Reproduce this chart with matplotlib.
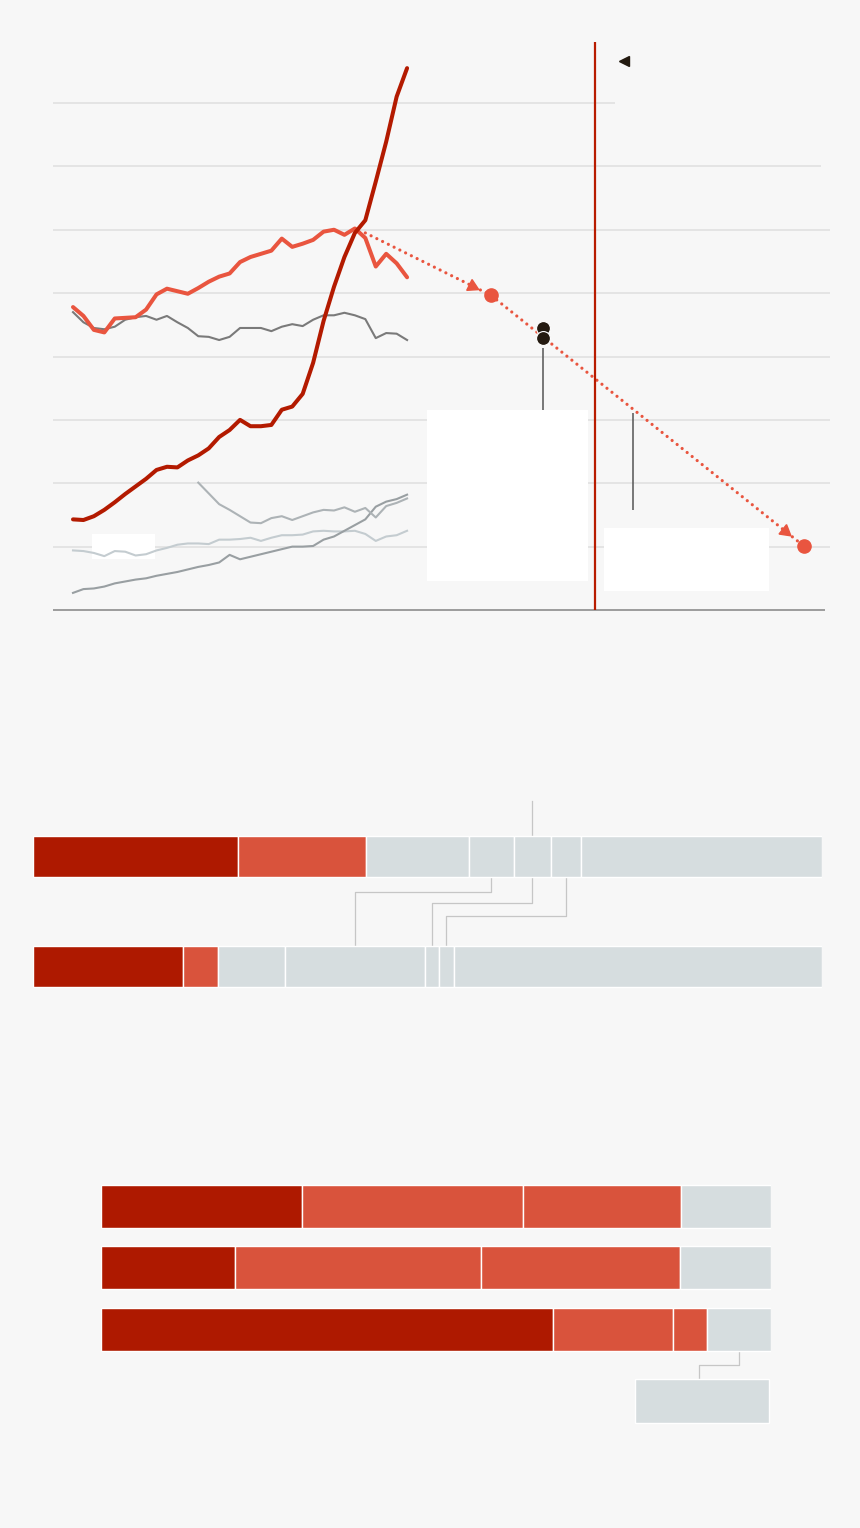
import numpy as np
import matplotlib
matplotlib.use("Agg")
import matplotlib.pyplot as plt
from matplotlib.patches import Rectangle

# ---- line chart data (values in grid units, one per gridline) ----
years = list(range(1990, 2023))
dark_red = [1.43, 1.42, 1.48, 1.58, 1.70, 1.83, 1.95, 2.07, 2.21, 2.26, 2.25,
            2.36, 2.44, 2.55, 2.73, 2.84, 3.00, 2.90, 2.90, 2.92, 3.16, 3.21,
            3.41, 3.90, 4.56, 5.10, 5.57, 5.95, 6.15, 6.76, 7.39, 8.10, 8.55]
orange = [4.78, 4.64, 4.42, 4.38, 4.60, 4.61, 4.62, 4.74, 4.98, 5.07, 5.03,
          4.99, 5.08, 5.18, 5.26, 5.31, 5.49, 5.57, 5.62, 5.67, 5.86, 5.73,
          5.78, 5.84, 5.97, 6.00, 5.92, 6.02, 5.87, 5.42, 5.62, 5.47, 5.25]
dark_gray = [4.70, 4.54, 4.45, 4.43, 4.47, 4.58, 4.62, 4.64, 4.58, 4.64, 4.54,
             4.45, 4.32, 4.31, 4.26, 4.31, 4.45, 4.45, 4.45, 4.40, 4.47, 4.51,
             4.48, 4.58, 4.65, 4.65, 4.69, 4.65, 4.59, 4.29, 4.37, 4.36, 4.26]
light_blue = [0.94, 0.93, 0.90, 0.85, 0.93, 0.92, 0.86, 0.88, 0.94, 0.98, 1.03,
              1.05, 1.05, 1.04, 1.11, 1.11, 1.12, 1.14, 1.09, 1.14, 1.18, 1.18,
              1.19, 1.24, 1.25, 1.24, 1.24, 1.25, 1.20, 1.09, 1.16, 1.18, 1.25]
mid_gray = [0.27, 0.33, 0.34, 0.37, 0.42, 0.45, 0.48, 0.50, 0.54, 0.57, 0.60,
            0.64, 0.68, 0.71, 0.75, 0.87, 0.80, 0.84, 0.88, 0.92, 0.96, 1.00,
            1.00, 1.01, 1.11, 1.16, 1.25, 1.34, 1.43, 1.63, 1.71, 1.75, 1.82]
years_late = list(range(2002, 2023))
light_gray = [2.01, 1.84, 1.67, 1.58, 1.48, 1.38, 1.37, 1.45, 1.48, 1.42, 1.48,
              1.54, 1.58, 1.57, 1.62, 1.55, 1.61, 1.46, 1.64, 1.69, 1.76]

proj_years = [2018, 2030, 2060]
proj_vals = [5.95, 4.97, 1.01]
marked_year = 2035
marked_vals = [4.45, 4.29]
cutoff_year = 2040
grid_vals = [1, 2, 3, 4, 5, 6, 7, 8]
grid_ends = [2062.5, 2062.5, 2062.5, 2062.5, 2062.5, 2062.5, 2061.6, 2041.9]

# ---- stacked bars (percent shares) ----
top_bars = [
    [26.0, 16.2, 13.1, 5.6, 4.7, 3.9, 30.5],
    [19.0, 4.4, 8.6, 17.7, 1.7, 1.9, 46.7],
]
bottom_bars = [
    [30.0, 33.0, 23.6, 13.4],
    [20.0, 36.7, 29.7, 13.6],
    [67.5, 17.8, 5.1, 9.6],
]

DARK = "#ae1900"
ORANGE = "#d9533c"
LINE_ORANGE = "#e9553f"
GRAY = "#d6dddf"
BG = "#f7f7f7"

W, H = 860, 1528
fig = plt.figure(figsize=(8.6, 15.28), dpi=100, facecolor=BG)


def px_axes(x0, y0, x1, y1):
    ax = fig.add_axes([x0 / W, 1 - y1 / H, (x1 - x0) / W, (y1 - y0) / H])
    ax.set_axis_off()
    ax.set_facecolor("none")
    return ax


# ================= line chart =================
ax = px_axes(0, 0, 860, 660)
ax.set_xlim(1990 - 73 / 10.44, 1990 + 787 / 10.44)
ax.set_ylim(-50 / 63.375, 610 / 63.375)

for v, xe in zip(grid_vals, grid_ends):
    ax.hlines(v, 1988.1, xe, color="#e2e2e2", lw=1.3, zorder=1)
ax.hlines(0, 1988.1, 2062.0, color="#9c9c9c", lw=1.4, zorder=1)

# label backgrounds
for (x0, x1, y0, y1) in [(2023.9, 2039.3, 0.46, 3.16),
                         (2040.86, 2056.7, 0.30, 1.29),
                         (1991.8, 1997.9, 0.80, 1.20)]:
    ax.add_patch(Rectangle((x0, y0), x1 - x0, y1 - y0, facecolor="white",
                           edgecolor="none", zorder=2))

ax.plot(years, light_blue, color="#c4ccd0", lw=1.5, zorder=3)
ax.plot(years, mid_gray, color="#999fa2", lw=1.5, zorder=3)
ax.plot(years_late, light_gray, color="#adb3b6", lw=1.5, zorder=3)
ax.plot(years, dark_gray, color="#7a7a7a", lw=1.5, zorder=3)
ax.plot(years, orange, color=LINE_ORANGE, lw=2.9, zorder=4,
        solid_capstyle="round", solid_joinstyle="round")
ax.plot(years, dark_red, color="#b31a00", lw=2.9, zorder=5,
        solid_capstyle="round", solid_joinstyle="round")

# projection
ax.plot(proj_years, proj_vals, color=LINE_ORANGE, lw=2.3, zorder=4,
        linestyle=(0, (0.01, 2.0)), dash_capstyle="round")
ax.plot(proj_years[1:], proj_vals[1:], "o", color=LINE_ORANGE, ms=9.5, zorder=6)
for i in range(2):
    x0, y0 = proj_years[i], proj_vals[i]
    x1, y1 = proj_years[i + 1], proj_vals[i + 1]
    t = 1 - 1.8 / (x1 - x0)
    p0 = ax.transData.transform((x0, y0))
    p1 = ax.transData.transform((x1, y1))
    ang = np.degrees(np.arctan2(p1[1] - p0[1], p1[0] - p0[0]))
    ax.plot(x0 + t * (x1 - x0), y0 + t * (y1 - y0), marker=(3, 0, ang - 90),
            color=LINE_ORANGE, ms=10, zorder=6, lw=0)

ax.plot([marked_year] * 2, marked_vals, "o", color="#241a10", ms=10,
        mec="white", mew=0.8, zorder=7)
ax.vlines(marked_year, 3.16, 4.13, color="#555555", lw=1.1, zorder=3)
ax.vlines(2043.6, 1.58, 3.11, color="#555555", lw=1.1, zorder=3)

ax.vlines(cutoff_year, 0, 8.96, color="#b81c00", lw=1.6, zorder=5)
ax.plot(2042.8, 8.66, marker="<", color="#231a10", ms=7, zorder=6)

# ================= top stacked bars =================
bx = px_axes(33, 790, 822, 1000)
bx.set_xlim(0, 100)
bx.set_ylim(1.305, -0.605)
bar_h = 41 / 110
for row, shares in enumerate(top_bars):
    left = np.concatenate([[0], np.cumsum(shares)[:-1]])
    colors = [DARK, ORANGE] + [GRAY] * (len(shares) - 2)
    bx.barh(row, shares, left=left, height=bar_h, color=colors,
            edgecolor="white", linewidth=1.0)

lefts1 = np.concatenate([[0], np.cumsum(top_bars[0])])
lefts2 = np.concatenate([[0], np.cumsum(top_bars[1])])
mid1 = (lefts1[:-1] + lefts1[1:]) / 2
mid2 = (lefts2[:-1] + lefts2[1:]) / 2
conn = dict(color="#c6c6c6", lw=0.9, zorder=0)
bx.plot([mid1[4], mid1[4]], [-0.506, -bar_h / 2], **conn)
top_y = bar_h / 2
bot_y = 1 - bar_h / 2
for src, dst, elbow in [(3, 3, 0.325), (4, 4, 0.42), (5, 5, 0.544)]:
    bx.plot([mid1[src], mid1[src], mid2[dst], mid2[dst]],
            [top_y, elbow, elbow, bot_y], **conn)

# ================= bottom stacked bars =================
cx = px_axes(101, 1160, 771, 1440)
cx.set_xlim(0, 100)
cx.set_ylim(3.797, -0.756)
bar_h2 = 43 / 61.5
for row, shares in enumerate(bottom_bars):
    left = np.concatenate([[0], np.cumsum(shares)[:-1]])
    colors = [DARK, ORANGE, ORANGE, GRAY]
    cx.barh(row, shares, left=left, height=bar_h2, color=colors,
            edgecolor="white", linewidth=1.0)

last = bottom_bars[2]
gray_mid = sum(last[:3]) + last[3] / 2
cx.plot([gray_mid, gray_mid, 89.3, 89.3],
        [2 + bar_h2 / 2, 2.577, 2.577, 2.805], **conn)
cx.barh(3.16, 99.66 - 79.7, left=79.7, height=0.71, color=GRAY,
        edgecolor="white", linewidth=1.0)

fig.savefig("out.png", dpi=100, facecolor=BG)
